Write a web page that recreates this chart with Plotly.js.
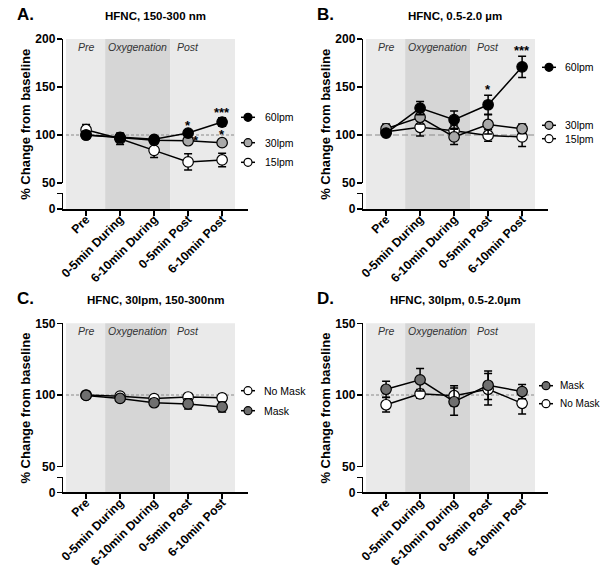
<!DOCTYPE html>
<html><head><meta charset="utf-8">
<script src="https://cdn.plot.ly/plotly-3.0.1.min.js"></script>
<style>html,body{margin:0;padding:0;background:#fff}#chart{width:600px;height:571px}</style>
</head><body><div id="chart"></div>
<script>
// ---------- data ----------
const categories = ['Pre', '0-5min During', '6-10min During', '0-5min Post', '6-10min Post'];
const phaseLabels = ['Pre', 'Oxygenation', 'Post'];

// Panel A: HFNC, 150-300 nm
const a60 = [100, 97.5, 95.5, 102, 113.5];
const a60err = [1.5, 3.5, 2, 2.5, 4.5];
const a30 = [100, 97, 94.5, 94, 92];
const a30err = [1.5, 3, 2, 3, 2.5];
const a15 = [105.5, 96, 84, 72, 74];
const a15err = [5.5, 6, 7.5, 8.5, 7];

// Panel B: HFNC, 0.5-2.0 µm
const b60 = [102, 128, 116, 131.5, 171];
const b60err = [2, 7, 9, 10, 11];
const b30 = [106.5, 118.5, 98, 111, 106.5];
const b30err = [5, 7, 8, 10, 5];
const b15 = [103.5, 108, 104.5, 99.5, 98];
const b15err = [4, 9, 6, 6, 10];

// Panel C: HFNC, 30lpm, 150-300nm
const cNoMask = [100, 99.2, 97.5, 98.6, 98];
const cNoMaskErr = [1, 1.5, 2, 2, 2.5];
const cMask = [99.7, 97.6, 94.6, 93.8, 91.7];
const cMaskErr = [1, 1.5, 2.5, 3.5, 3.5];

// Panel D: HFNC, 30lpm, 0.5-2.0µm
const dMask = [104, 110.6, 95.3, 106.8, 102.4];
const dMaskErr = [5.6, 7.8, 9.5, 10, 5];
const dNoMask = [93.2, 100.8, 99.5, 104, 94.2];
const dNoMaskErr = [5, 3, 7, 11, 7.5];

const seriesNames = ['60lpm', '30lpm', '15lpm', 'Mask', 'No Mask'];

// significance marks: [panel, series name, category index, text]
const stars = [
  [0, '60lpm', 3, '*'], [0, '60lpm', 4, '***'], [0, '30lpm', 3, '*'], [0, '30lpm', 4, '*'],
  [1, '60lpm', 3, '*'], [1, '60lpm', 4, '***']
];

// ---------- styling / layout ----------
const W = 600, H = 571;
const px = v => v / W;
const py = v => 1 - v / H;
const FONT = 'Liberation Sans, Arial, sans-serif';
const fillOf = {'60lpm': '#000000', '30lpm': '#a8a8a8', '15lpm': '#ffffff', 'Mask': '#6f6f6f', 'No Mask': '#ffffff'};

const panels = [
  {letter: 'A.', title: 'HFNC, 150-300 nm', left: 63.3, right: 248.3, top: 39, brk: 183, low: 193.3, bottom: 209,
   yr: [50, 200], tv: [50, 100, 150, 200],
   series: [['15lpm', a15, a15err], ['30lpm', a30, a30err], ['60lpm', a60, a60err]],
   legend: [['60lpm', 117.3], ['30lpm', 142.7], ['15lpm', 162.3]], dash: '3px,2px', lgx: 248, ltx: 263, lfs: 10.5},
  {letter: 'B.', title: 'HFNC, 0.5-2.0 µm', left: 363.3, right: 548.3, top: 39, brk: 183, low: 193.3, bottom: 209,
   yr: [50, 200], tv: [50, 100, 150, 200],
   series: [['15lpm', b15, b15err], ['30lpm', b30, b30err], ['60lpm', b60, b60err]],
   legend: [['60lpm', 67.3], ['30lpm', 125.3], ['15lpm', 138.7]], dash: '6px,3px', lgx: 549, ltx: 563, lfs: 10.5},
  {letter: 'C.', title: 'HFNC, 30lpm, 150-300nm', left: 63.3, right: 248.3, top: 323.3, brk: 466.7, low: 477.3, bottom: 492.3,
   yr: [50, 150], tv: [50, 100, 150],
   series: [['No Mask', cNoMask, cNoMaskErr], ['Mask', cMask, cMaskErr]],
   legend: [['No Mask', 390.7], ['Mask', 410.7]], dash: '3px,2px', lgx: 248, ltx: 262, lfs: 10.5},
  {letter: 'D.', title: 'HFNC, 30lpm, 0.5-2.0µm', left: 363.3, right: 548.3, top: 323.3, brk: 466.7, low: 477.3, bottom: 492.3,
   yr: [50, 150], tv: [50, 100, 150],
   series: [['No Mask', dNoMask, dNoMaskErr], ['Mask', dMask, dMaskErr]],
   legend: [['Mask', 385.7], ['No Mask', 403.7]], dash: '3px,2px', lgx: 546, ltx: 558, lfs: 10}
];

const xRange = [-0.67, 4.77];
const phaseBounds = [[-0.59, 0.56], [0.56, 2.47], [2.47, 4.38]];
const phaseFill = ['#eaeaea', '#d6d6d6', '#eaeaea'];
const phaseLabelX = [0, 1.5, 3];

const traces = [];
const layout = {
  width: W, height: H, margin: {l: 0, r: 0, t: 0, b: 0},
  paper_bgcolor: '#ffffff', plot_bgcolor: 'rgba(0,0,0,0)',
  showlegend: false, shapes: [], annotations: [],
  font: {family: FONT, color: '#000'}
};

const axisCommon = {
  showline: true, linecolor: '#000', linewidth: 1.5, ticks: 'outside', ticklen: 5, tickwidth: 1.5,
  tickcolor: '#000', showgrid: false, zeroline: false, fixedrange: true,
  tickfont: {family: FONT, size: 12, weight: 'bold', color: '#000'}
};

panels.forEach((p, i) => {
  const xName = i === 0 ? 'x' : 'x' + (i + 1);
  const yUp = 2 * i + 1, yLo = 2 * i + 2;
  const yUpName = yUp === 1 ? 'y' : 'y' + yUp;
  const yLoName = 'y' + yLo;
  const xKey = i === 0 ? 'xaxis' : 'xaxis' + (i + 1);
  const yUpKey = yUp === 1 ? 'yaxis' : 'yaxis' + yUp;
  const yLoKey = 'yaxis' + yLo;

  layout[xKey] = Object.assign({}, axisCommon, {
    type: 'category', domain: [px(p.left), px(p.right)], anchor: yLoName, range: xRange,
    tickangle: -45, ticklabelstandoff: -8,
    tickfont: {family: FONT, size: 12.2, weight: 'bold', color: '#000'}
  });
  layout[yUpKey] = Object.assign({}, axisCommon, {
    domain: [py(p.brk), py(p.top)], anchor: xName, range: p.yr, tickvals: p.tv, ticklabelstandoff: -1
  });
  layout[yLoKey] = Object.assign({}, axisCommon, {
    domain: [py(p.bottom), py(p.low)], anchor: xName, range: [0, 16],
    tickvals: [0, 16], ticktext: ['0', ''], ticklabelstandoff: -1
  });

  // phase shading
  phaseBounds.forEach((b, k) => {
    layout.shapes.push({type: 'rect', xref: xName, yref: 'paper', x0: b[0], x1: b[1],
      y0: py(p.bottom), y1: py(p.top), fillcolor: phaseFill[k], line: {width: 0}, layer: 'below'});
    layout.annotations.push({xref: xName, yref: 'paper', x: phaseLabelX[k], y: py(p.top + 7.7),
      text: phaseLabels[k], showarrow: false, xanchor: 'center', yanchor: 'middle',
      font: {family: FONT, size: 10.5, style: 'italic', color: '#333'}});
  });
  // baseline
  layout.shapes.push({type: 'line', xref: xName, yref: yUpName, x0: -0.59, x1: 4.38, y0: 100, y1: 100,
    line: {color: '#8a8a8a', width: 1, dash: p.dash}, layer: 'below'});

  // series
  p.series.forEach(s => {
    traces.push({
      type: 'scatter', mode: 'lines+markers', name: s[0], x: categories, y: s[1],
      xaxis: xName, yaxis: yUpName, cliponaxis: false,
      line: {color: '#000', width: 1.5},
      marker: {size: 10.5, color: fillOf[s[0]], line: {color: '#000', width: 1.2}},
      error_y: {type: 'data', array: s[2], visible: true, color: '#000', thickness: 1.5, width: 4}
    });
  });
  // empty trace so the lower (broken) segment subplot exists
  traces.push({type: 'scatter', x: [], y: [], xaxis: xName, yaxis: yLoName, showlegend: false, hoverinfo: 'skip'});

  // titles
  layout.annotations.push({xref: 'paper', yref: 'paper', x: px((p.left + p.right) / 2 - 0.5), y: py(p.top - 23.3),
    text: p.title, showarrow: false, xanchor: 'center', yanchor: 'middle',
    font: {family: FONT, size: 11.5, weight: 'bold', color: '#000'}});
  layout.annotations.push({xref: 'paper', yref: 'paper', x: px(p.left - 48), y: py(p.top - 24.5),
    text: p.letter, showarrow: false, xanchor: 'left', yanchor: 'middle',
    font: {family: FONT, size: 17, weight: 'bold', color: '#000'}});
  layout.annotations.push({xref: 'paper', yref: 'paper', x: px(p.left - 37.5), y: py((p.top + p.bottom) / 2),
    text: '% Change from baseline', textangle: -90, showarrow: false, xanchor: 'center', yanchor: 'middle',
    font: {family: FONT, size: 13, weight: 'bold', color: '#000'}});

  // legend (drawn manually to match GraphPad style)
  p.legend.forEach(l => {
    const nm = l[0], cy = l[1], gx = p.lgx;
    layout.shapes.push({type: 'line', xref: 'paper', yref: 'paper', x0: px(gx - 7), x1: px(gx + 7),
      y0: py(cy), y1: py(cy), line: {color: '#000', width: 1.5}});
    layout.shapes.push({type: 'circle', xref: 'paper', yref: 'paper', xsizemode: 'pixel', ysizemode: 'pixel',
      xanchor: px(gx), yanchor: py(cy), x0: -4, x1: 4, y0: -4, y1: 4,
      fillcolor: fillOf[nm], line: {color: '#000', width: 1.2}});
    layout.annotations.push({xref: 'paper', yref: 'paper', x: px(p.ltx), y: py(cy), text: nm,
      showarrow: false, xanchor: 'left', yanchor: 'middle',
      font: {family: FONT, size: p.lfs, color: '#000'}});
  });
});

// significance stars placed above the error bar of the relevant point
stars.forEach(st => {
  const p = panels[st[0]];
  const ser = p.series.find(s => s[0] === st[1]);
  const i = st[0];
  const xName = i === 0 ? 'x' : 'x' + (i + 1);
  const yUp = 2 * i + 1;
  const yUpName = yUp === 1 ? 'y' : 'y' + yUp;
  const k = st[2];
  const side = (st[1] === '30lpm' && k === 3);
  layout.annotations.push({xref: xName, yref: yUpName,
    x: k, y: side ? ser[1][k] : ser[1][k] + ser[2][k],
    text: st[3], showarrow: false, xanchor: 'center', yanchor: side ? 'middle' : 'bottom',
    xshift: side ? 8 : 0, yshift: side ? 0 : -4,
    font: {family: FONT, size: 13, weight: 'bold', color: '#000'}});
});

Plotly.newPlot('chart', traces, layout, {staticPlot: true, displayModeBar: false});
</script>
</body></html>
